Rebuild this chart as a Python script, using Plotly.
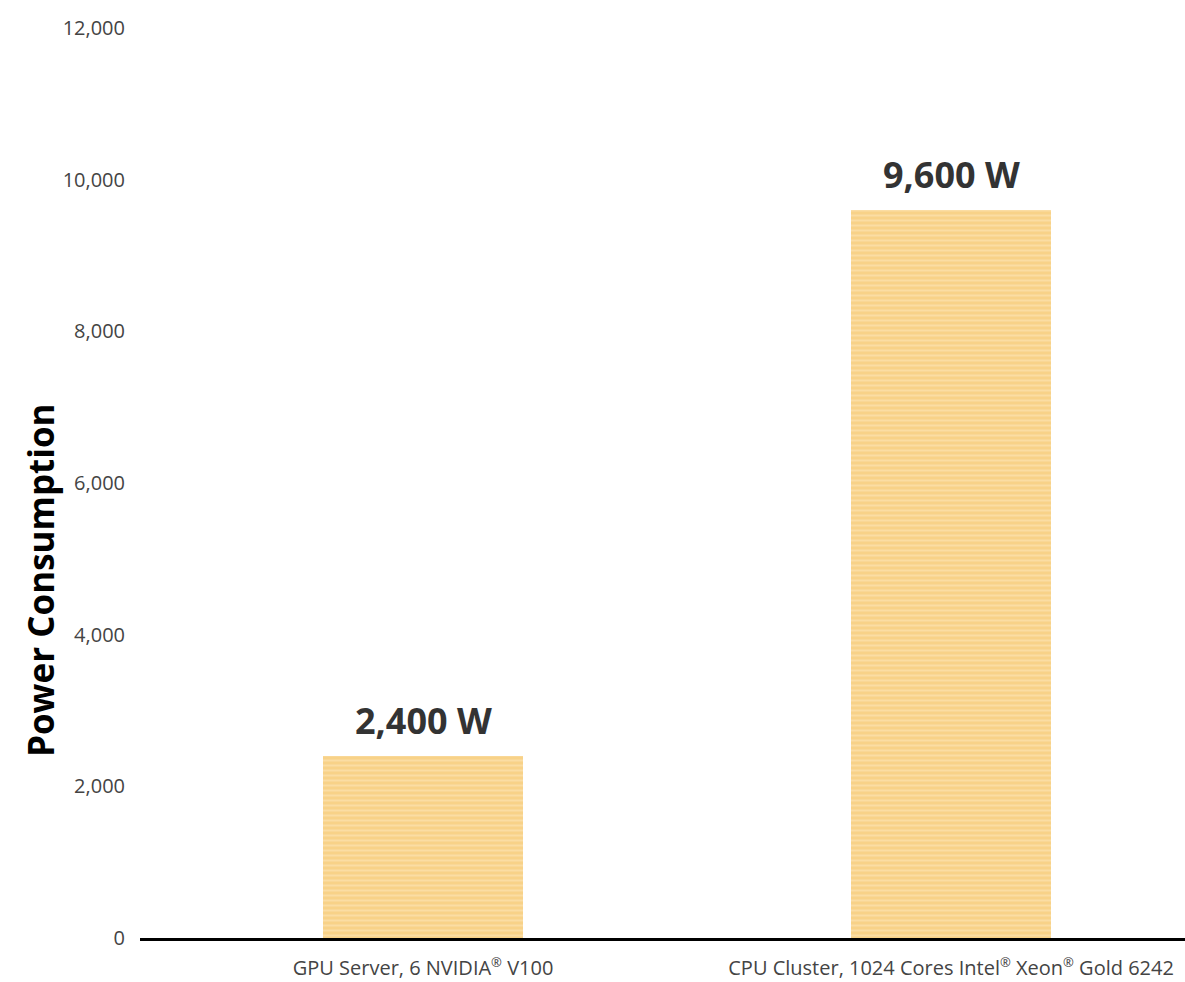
import plotly.graph_objects as go

REG = '<sup><span style="font-size:13px">®</span></sup>'
categories = [f"GPU Server, 6 NVIDIA{REG} V100",
              f"CPU Cluster, 1024 Cores Intel{REG} Xeon{REG} Gold 6242"]
power_w = [2400, 9600]
value_labels = ["2,400 W", "9,600 W"]
y_ticks = [0, 2000, 4000, 6000, 8000, 10000, 12000]
x_pos = [0, 1]

fig = go.Figure()
fig.add_trace(go.Bar(
    x=x_pos,
    y=power_w,
    width=0.38,
    marker=dict(
        color="#F8D288",
        line=dict(width=0),
        pattern=dict(shape="-", fgcolor="#FDE7BE", size=5, solidity=0.4, fillmode="overlay"),
    ),
    hoverinfo="skip",
))

annotations = [dict(
    x=xv, y=yv, xref="x", yref="y", text=f"<b>{lab}</b>",
    showarrow=False, xanchor="center", yanchor="bottom", yshift=9,
    font=dict(family="Open Sans", size=36, color="#333333"),
) for xv, yv, lab in zip(x_pos, power_w, value_labels)]

annotations.append(dict(
    text="<b>Power Consumption</b>",
    xref="paper", yref="paper",
    x=-0.095, y=0.393,
    xanchor="center", yanchor="middle",
    textangle=-90, showarrow=False,
    font=dict(family="Open Sans", size=35, color="black"),
))

fig.update_layout(
    width=1185, height=982,
    margin=dict(l=140, r=0, t=28, b=44),
    paper_bgcolor="white", plot_bgcolor="white",
    showlegend=False,
    bargap=0,
    font=dict(family="Open Sans", color="#444444"),
    xaxis=dict(
        range=[-0.536, 1.443],
        tickmode="array", tickvals=x_pos, ticktext=categories,
        tickfont=dict(size=20, color="#444444"),
        showgrid=False, zeroline=False,
        showline=True, linecolor="black", linewidth=3,
        ticks="", ticklabelstandoff=10,
    ),
    yaxis=dict(
        range=[0, 12000],
        tickmode="array", tickvals=y_ticks,
        tickformat=",d",
        tickfont=dict(size=20, color="#444444"),
        showgrid=False, zeroline=False, showline=False,
        ticks="", ticklabelstandoff=14,
    ),
    annotations=annotations,
)

fig.write_html("out.html")
